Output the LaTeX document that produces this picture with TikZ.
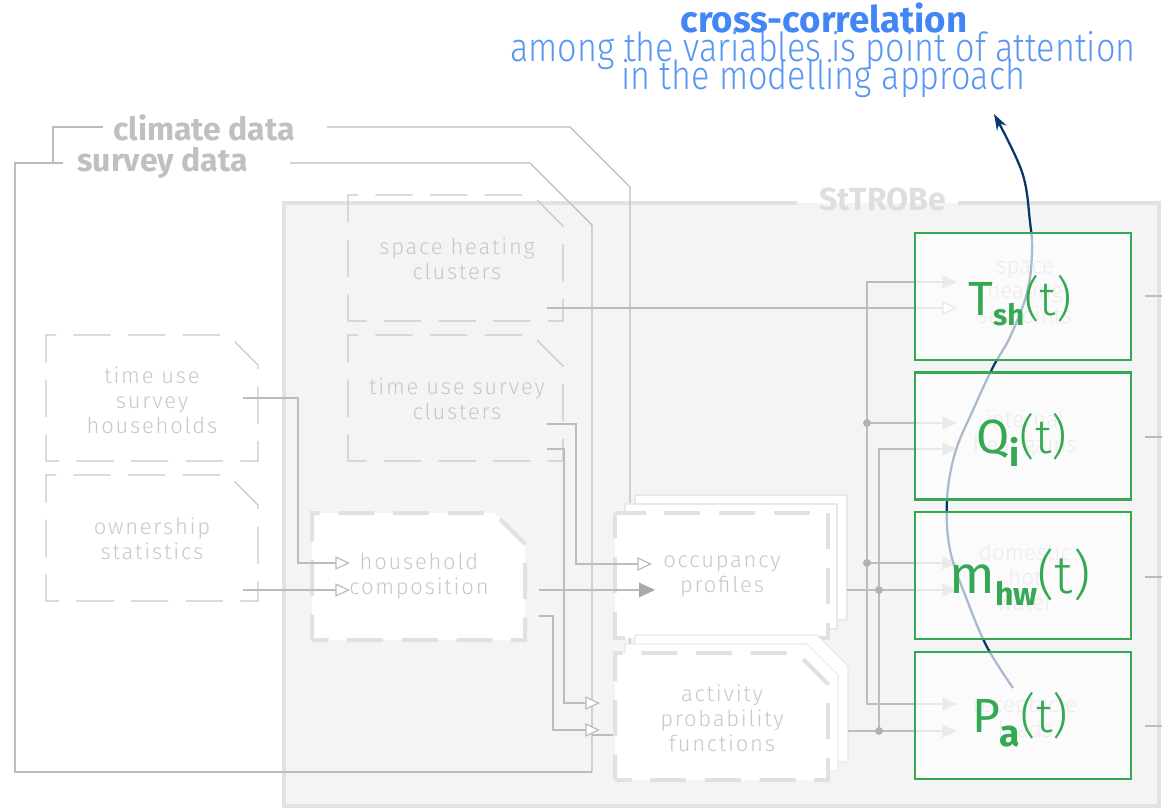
\documentclass[tikz,border=0pt]{standalone}
\usepackage{fontspec}
\usetikzlibrary{arrows.meta}
\setmainfont{Fira Sans}
\newcommand\setlightfaces[1]{%
  \newfontfamily\lightface{#1}%
  \newfontfamily\narrowface{#1}[FakeStretch=0.855]%
  \newfontfamily\spacedface{#1}[LetterSpace=8]}
\IfFontExistsTF{Fira Sans Light}{\setlightfaces{Fira Sans Light}}{\setlightfaces{Fira Sans}}

\definecolor{linegray}{RGB}{188,188,188}
\definecolor{boxline}{RGB}{200,200,200}
\definecolor{boxtext}{RGB}{200,200,200}
\definecolor{thickgray}{RGB}{225,225,225}
\definecolor{pagegray}{RGB}{232,232,232}
\definecolor{panel}{RGB}{244,244,244}
\definecolor{panelline}{RGB}{226,226,226}
\definecolor{datagray}{RGB}{192,192,192}
\definecolor{stgray}{RGB}{222,222,222}
\definecolor{dotgray}{RGB}{178,178,178}
\definecolor{tipgray}{RGB}{170,170,170}
\definecolor{tiplight}{RGB}{195,195,195}
\definecolor{navy}{RGB}{8,55,112}
\definecolor{vargreen}{RGB}{52,168,83}
\definecolor{titleblue}{RGB}{66,133,244}
\definecolor{subblue}{RGB}{88,150,246}

\newcommand\vsub[3]{\raisebox{#1}{\fontsize{#2}{#2}\selectfont\bfseries #3}}
\newcommand\argt{{\lightface(t)}}

\begin{document}
\begin{tikzpicture}[x=0.75pt,y=-0.75pt,
  conn/.style={draw=linegray, line width=0.9pt},
  oarrow/.style={-{Triangle[length=11pt,width=10pt,fill=white]}},
  farrow/.style={-{Triangle[length=12pt,width=11pt,color=tipgray]}},
  rarrow/.style={-{Triangle[length=11pt,width=10pt,color=tiplight]}},
  thinbox/.style={draw=boxline, line width=0.9pt, dash pattern=on 28pt off 13pt, dash phase=8pt},
  thickbox/.style={draw=thickgray, line width=3pt, fill=white, dash pattern=on 27pt off 14pt, dash phase=8pt},
  pagebox/.style={draw=pagegray, line width=0.8pt, fill=white},
  lbl/.style={font=\spacedface\fontsize{16.5}{18.75}\selectfont, text=boxtext, align=center, inner sep=0pt},
  hidlbl/.style={font=\lightface\fontsize{17}{18.75}\selectfont, text=boxtext, align=center, inner sep=0pt},
  datalabel/.style={font=\bfseries\fontsize{24}{24}\selectfont, text=datagray, inner sep=0pt},
  greenbox/.style={draw=vargreen, line width=2pt, fill=white, fill opacity=0.66, minimum width=162pt, minimum height=95.25pt, inner sep=0pt},
  formula/.style={font=\fontsize{36}{36}\selectfont, text=vargreen, inner sep=0pt},
  dot/.style={fill=dotgray}]

\useasboundingbox (0,0) rectangle (1162,809);
\fill[white] (0,0) rectangle (1162,809);

% ---------- StTROBe panel ----------
\fill[panel] (284,203) rectangle (1159,806);
\draw[panelline, line width=3.5pt] (797,203) -- (284,203) -- (284,806) -- (1159,806) -- (1159,203) -- (958,203);
\node[font=\bfseries\fontsize{24}{24}\selectfont, text=stgray, anchor=base west, inner sep=0pt] (sttrobe) at (819,210) {StTROBe};

% ---------- data sources ----------
\node[datalabel, anchor=base west] (climate) at (113,141) {climate data};
\node[datalabel, anchor=base west] (survey) at (77,172) {survey data};
\coordinate (climate-l) at (103,127);
\coordinate (climate-r) at (327,127);
\coordinate (survey-l) at (63,163);
\coordinate (survey-r) at (290,163);
\coordinate (act-in3) at (615,735);

\draw[conn] (climate-l) -- (53,127) -- (53,163);
\draw[conn] (survey-l) -- (15,163) -- (15,772) -- (592,772);
\draw[conn] (survey-r) -- (530,163) -- (592,225) -- (592,772);
\draw[conn] (climate-r) -- (570,127) -- (630,187) -- (630,705);
\draw[conn] (592,735) -- (act-in3);

% ---------- input clusters (thin dashed) ----------
\draw[thinbox] (348,321) -- (348,195) -- (532,195) -- (563,226) -- (563,321) -- cycle;
\node[lbl] (shc) at (457,259) {space heating\\clusters};
\draw[thinbox] (348,461) -- (348,335) -- (532,335) -- (563,366) -- (563,461) -- cycle;
\node[lbl] (tusc) at (457,399) {time use survey\\clusters};
\draw[thinbox] (46,461) -- (46,335) -- (228,335) -- (258,365) -- (258,461) -- cycle;
\node[lbl] (tush) at (152,400) {time use\\survey\\households};
\draw[thinbox] (46,601) -- (46,475) -- (228,475) -- (258,505) -- (258,601) -- cycle;
\node[lbl] (own) at (152,539) {ownership\\statistics};

% ---------- household composition ----------
\draw[thickbox] (312,640) -- (312,513) -- (494,513) -- (525,544) -- (525,640) -- cycle;
\node[lbl] (hc) at (419,576) {household\\composition};

% ---------- occupancy profiles (stacked) ----------
\draw[pagebox] (635,495) rectangle (847,620);
\draw[pagebox] (625,504) rectangle (837,629);
\draw[thickbox] (615,513) rectangle (828,638);
\node[lbl] (occ) at (722,576) {occupancy\\profiles};

% ---------- activity probability functions (stacked) ----------
\draw[pagebox] (635,762) -- (635,635) -- (817,635) -- (848,666) -- (848,762) -- cycle;
\draw[pagebox] (625,771) -- (625,644) -- (807,644) -- (838,675) -- (838,771) -- cycle;
\draw[thickbox] (615,780) -- (615,653) -- (797,653) -- (828,684) -- (828,780) -- cycle;
\node[lbl] (act) at (722,718) {activity\\probability\\functions};

% ---------- ports ----------
\coordinate (tush-out) at (243,398);
\coordinate (own-out) at (243,590);
\coordinate (hc-in1) at (350,563);
\coordinate (hc-in2) at (350,590);
\coordinate (hc-out1) at (539,590);
\coordinate (hc-out2) at (539,616);
\coordinate (tusc-out1) at (547,424);
\coordinate (tusc-out2) at (547,449);
\coordinate (shc-out) at (547,308);
\coordinate (occ-in1) at (652,564);
\coordinate (occ-in2) at (655,590);
\coordinate (act-in1) at (600,703);
\coordinate (act-in2) at (600,730);
\coordinate (occ-out) at (847,590);
\coordinate (act-out) at (848,731);
\coordinate (sp-in1) at (957,282);
\coordinate (sp-in2) at (957,308);
\coordinate (ihg-in1) at (957,423);
\coordinate (ihg-in2) at (957,449);
\coordinate (dhw-in1) at (957,563);
\coordinate (dhw-in2) at (957,590);
\coordinate (rl-in1) at (957,704);
\coordinate (rl-in2) at (957,731);

% ---------- connectors ----------
\draw[conn,oarrow] (tush-out) -| (298,563) -- (hc-in1);
\draw[conn,oarrow] (own-out) -- (hc-in2);
\draw[conn,farrow] (hc-out1) -- (occ-in2);
\draw[conn,oarrow] (hc-out2) -| (553,730) -- (act-in2);
\draw[conn,oarrow] (tusc-out1) -| (576,564) -- (occ-in1);
\draw[conn,oarrow] (tusc-out2) -| (564,703) -- (act-in1);
\draw[conn,oarrow] (shc-out) -- (sp-in2);
\draw[conn,rarrow] (occ-out) -- (dhw-in2);
\draw[conn,rarrow] (act-out) -- (rl-in2);
\draw[conn,rarrow] (879,731) -- (879,449) -- (ihg-in2);
\draw[conn,{Triangle[length=11pt,width=10pt,color=tiplight]}-{Triangle[length=11pt,width=10pt,color=tiplight]}]
  (sp-in1) -- (867,282) -- (867,704) -- (rl-in1);
\draw[conn,rarrow] (867,423) -- (ihg-in1);
\draw[conn,rarrow] (867,563) -- (dhw-in1);
\foreach \p in {(867,423),(867,563),(879,590),(879,731)} \fill[dot] \p circle (3pt);

% outputs leaving the model
\foreach \yy in {296,437,577,726} \draw[conn] (1145,\yy) -- (1162,\yy);

% ---------- model outputs ----------
\node[hidlbl] (spset) at (1025,295) {space\\heating\\setpoints};
\node[hidlbl] (ihg) at (1025,434) {internal\\heat gains};
\node[hidlbl] (dhw) at (1025,577) {domestic\\hot\\water};
\node[hidlbl] (rl) at (1025,717) {receptacle\\loads};

% ---------- cross-correlation curve ----------
\coordinate (cc-start) at (1013,688);
\coordinate (cc-end) at (994,114);
\draw[navy, line width=1.7pt, -{Stealth[length=12pt,width=8pt]}]
  plot[smooth, tension=0.6] coordinates {(cc-start) (987,647) (967,600) (950,550) (947,500) (955,453) (973,410) (993,367) (1010,337) (1027,293) (1032,253) (1030,222) (1022,172) (cc-end)};

% ---------- highlighted variables ----------
\node[greenbox] (tbox) at (1023,296.5) {};
\node[greenbox] (qbox) at (1023,436) {};
\node[greenbox] (mbox) at (1023,575.5) {};
\node[greenbox] (pbox) at (1023,715.5) {};
\node[formula, anchor=base] (tsh) at (1020,315) {T\vsub{-8pt}{22}{sh}\argt};
\node[formula, anchor=base] (qi) at (1022,453) {Q\vsub{-10pt}{27}{i}\argt};
\node[formula, anchor=base] (mhw) at (1020,593) {\fontsize{40}{40}\selectfont m\vsub{-9pt}{24}{hw}\argt};
\node[formula, anchor=base] (pa) at (1020,732) {P\vsub{-11pt}{28}{a}\argt};

% ---------- heading ----------
\node[font=\bfseries\fontsize{27.5}{27.5}\selectfont, text=titleblue, anchor=base, inner sep=0pt] (head) at (824,33) {cross-correlation};
\node[font=\narrowface\fontsize{30}{30}\selectfont, text=subblue, anchor=base, inner sep=0pt] (sub1) at (823,62) {among the variables is point of attention};
\node[font=\narrowface\fontsize{30}{30}\selectfont, text=subblue, anchor=base, inner sep=0pt] (sub2) at (823,90) {in the modelling approach};
\end{tikzpicture}
\end{document}
